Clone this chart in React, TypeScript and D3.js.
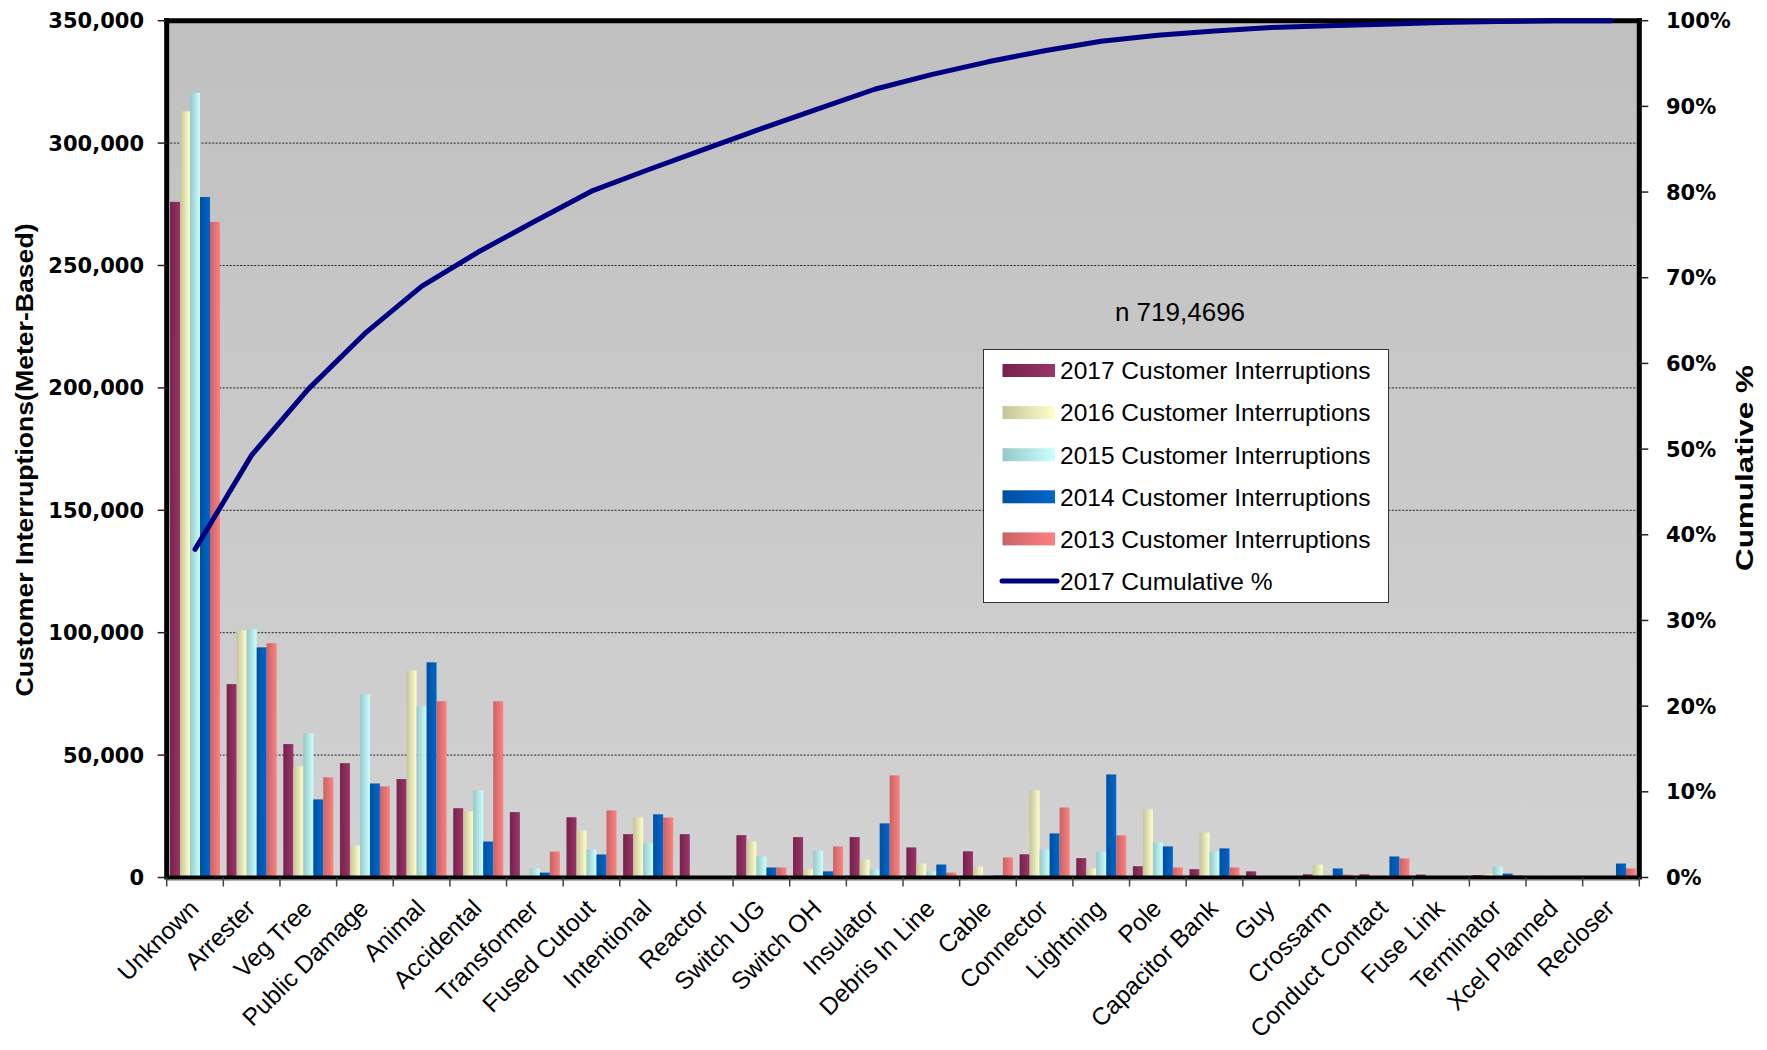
import React from "react";
import * as d3 from "d3";

const categories = ["Unknown","Arrester","Veg Tree","Public Damage","Animal","Accidental","Transformer","Fused Cutout","Intentional","Reactor","Switch UG","Switch OH","Insulator","Debris In Line","Cable","Connector","Lightning","Pole","Capacitor Bank","Guy","Crossarm","Conduct Contact","Fuse Link","Terminator","Xcel Planned","Recloser"];

const ci2017 = [276000, 79000, 54500, 46700, 40200, 28300, 26700, 24600, 17700, 17700, 17300, 16500, 16500, 12300, 10700, 9500, 7900, 4600, 3400, 2500, 1300, 1300, 1200, 1000, 400, 400];
const ci2016 = [313000, 101000, 45400, 13100, 84600, 27000, 0, 19200, 24500, 0, 14700, 3300, 7400, 5700, 4500, 35600, 3700, 27800, 18400, 0, 5300, 500, 0, 1600, 700, 0];
const ci2015 = [320500, 101400, 58900, 74800, 69900, 35600, 3700, 11400, 13900, 0, 8600, 11000, 3300, 2500, 600, 11400, 10600, 14300, 10600, 0, 0, 800, 0, 4500, 300, 0];
const ci2014 = [278000, 94000, 31900, 38400, 87900, 14700, 2000, 9400, 25800, 0, 4100, 2500, 22100, 5300, 800, 18000, 42100, 12700, 11900, 0, 3700, 8600, 0, 1600, 200, 5700];
const ci2013 = [267800, 95700, 40900, 37200, 72000, 72000, 10600, 27400, 24500, 0, 4100, 12700, 41700, 2000, 8200, 28600, 17200, 4100, 4100, 0, 1200, 7800, 0, 1000, 400, 3700];
const cumulative2017 = [38.3, 49.3, 57.0, 63.5, 69.0, 73.0, 76.6, 80.1, 82.6, 85.0, 87.4, 89.7, 92.0, 93.7, 95.2, 96.5, 97.6, 98.3, 98.8, 99.2, 99.4, 99.6, 99.8, 99.9, 100, 100];

const seriesNames = ["2017 Customer Interruptions","2016 Customer Interruptions","2015 Customer Interruptions","2014 Customer Interruptions","2013 Customer Interruptions"];
const lineName = "2017 Cumulative %";
const leftTicks = [0, 50000, 100000, 150000, 200000, 250000, 300000, 350000];
const rightTicks = [0, 10, 20, 30, 40, 50, 60, 70, 80, 90, 100];
const annotation = "n 719,4696";
const yTitle = "Customer Interruptions(Meter-Based)";
const y2Title = "Cumulative %";

const seriesValues = [ci2017, ci2016, ci2015, ci2014, ci2013];
const gradColors = [
  ["#75224c", "#9c3468"],
  ["#c4c49a", "#ffffcc"],
  ["#96c8c8", "#ccffff"],
  ["#004f9e", "#0066cc"],
  ["#c86464", "#ff8080"],
];

export default function App() {
  const L = 166.7, R = 1639.3, T = 20.7, B = 877.5;
  const x0 = d3.scaleBand<string>().domain(categories).range([L, R]).padding(0);
  const cw = x0.bandwidth();
  const gap = cw * 0.0588;
  const x1 = d3.scaleBand<number>().domain([0, 1, 2, 3, 4]).range([gap, cw - gap]).padding(0);
  const y = d3.scaleLinear().domain([0, 350000]).range([B, T]);
  const y2 = d3.scaleLinear().domain([0, 100]).range([B, T]);
  const line = d3.line<number>().x((_, i) => (x0(categories[i]) as number) + cw / 2).y(d => y2(d));
  const fmt = d3.format(",");

  const legendX = 983.5, legendY = 349.5, legendW = 405, legendH = 253;
  const rowY = (i: number) => 370.5 + i * 42.1;

  return (
    <svg width={1767} height={1050} style={{ position: "absolute", left: 0, top: 0, display: "block" }} fontFamily="'Liberation Sans', Arial, sans-serif">
      <defs>
        <linearGradient id="bg" x1="0" y1="0" x2="0" y2="1">
          <stop offset="0" stopColor="#c0c0c0" />
          <stop offset="1" stopColor="#d2d2d2" />
        </linearGradient>
        {gradColors.map((c, i) => (
          <linearGradient key={i} id={"g" + i} x1="0" y1="0" x2="1" y2="0">
            <stop offset="0" stopColor={c[0]} />
            <stop offset="1" stopColor={c[1]} />
          </linearGradient>
        ))}
      </defs>
      <rect x={0} y={0} width={1767} height={1050} fill="#fff" />
      <rect x={L} y={T} width={R - L} height={B - T} fill="url(#bg)" />
      {leftTicks.filter(t => t > 0 && t < 350000).map(t => (
        <line key={t} x1={L} x2={R} y1={y(t)} y2={y(t)} stroke="#222" strokeWidth={1} strokeDasharray="2,1.5" />
      ))}
      {seriesValues.map((vals, s) => (
        <g key={s}>
          {vals.map((v, i) => v > 0 ? (
            <rect key={i} x={(x0(categories[i]) as number) + (x1(s) as number)} y={y(v)} width={x1.bandwidth()} height={B - y(v)} fill={`url(#g${s})`} />
          ) : null)}
        </g>
      ))}
      {/* frame */}
      <line x1={L - 2.5} x2={R + 2.5} y1={T} y2={T} stroke="#000" strokeWidth={5} />
      <line x1={L} x2={L} y1={T - 2.5} y2={B + 2} stroke="#000" strokeWidth={5} />
      <line x1={R} x2={R} y1={T - 2.5} y2={B + 2} stroke="#000" strokeWidth={5} />
      <line x1={L} x2={R} y1={B} y2={B} stroke="#000" strokeWidth={4} />
      <line x1={L} x2={R} y1={B + 2.5} y2={B + 2.5} stroke="#666" strokeWidth={1} />
      {/* left ticks */}
      {leftTicks.map(t => (
        <g key={t}>
          <line x1={L - 9} x2={L} y1={y(t)} y2={y(t)} stroke="#222" strokeWidth={1.5} />
          <text x={144} y={y(t)} dy="0.36em" textAnchor="end" fontFamily="'DejaVu Sans', sans-serif" fontWeight="bold" fontSize={21}>{fmt(t)}</text>
        </g>
      ))}
      {rightTicks.map(t => (
        <g key={t}>
          <line x1={R} x2={R + 9} y1={y2(t)} y2={y2(t)} stroke="#222" strokeWidth={1.5} />
          <text x={1666} y={y2(t)} dy="0.36em" textAnchor="start" fontFamily="'DejaVu Sans', sans-serif" fontWeight="bold" fontSize={21}>{t + "%"}</text>
        </g>
      ))}
      {/* bottom ticks */}
      {d3.range(categories.length + 1).map(i => (
        <line key={i} x1={L + i * cw} x2={L + i * cw} y1={B} y2={B + 9} stroke="#444" strokeWidth={1.5} />
      ))}
      {categories.map(c => (
        <text key={c} transform={`translate(${(x0(c) as number) + cw / 2 + 5},910) rotate(-45)`} textAnchor="end" fontSize={24.5}>{c}</text>
      ))}
      {/* cumulative line */}
      <path d={line(cumulative2017) || ""} fill="none" stroke="#000080" strokeWidth={5} strokeLinejoin="round" strokeLinecap="round" />
      {/* titles */}
      <text transform="translate(25,460) rotate(-90)" textAnchor="middle" dy="0.35em" fontWeight="bold" fontSize={23} textLength={473} lengthAdjust="spacingAndGlyphs">{yTitle}</text>
      <text transform="translate(1745,468) rotate(-90)" textAnchor="middle" dy="0.35em" fontWeight="bold" fontSize={23} textLength={206} lengthAdjust="spacingAndGlyphs">{y2Title}</text>
      <text x={1180} y={321} textAnchor="middle" fontSize={26}>{annotation}</text>
      {/* legend */}
      <rect x={legendX} y={legendY} width={legendW} height={legendH} fill="#fff" stroke="#333" strokeWidth={1} />
      {seriesNames.map((n, i) => (
        <g key={n}>
          <rect x={1002.5} y={rowY(i) - 6.5} width={52.5} height={13} fill={`url(#g${i})`} />
          <text x={1060} y={rowY(i)} dy="0.36em" fontSize={24.5}>{n}</text>
        </g>
      ))}
      <line x1={1002} x2={1057} y1={rowY(5)} y2={rowY(5)} stroke="#000080" strokeWidth={5} strokeLinecap="round" />
      <text x={1060} y={rowY(5)} dy="0.36em" fontSize={24.5}>{lineName}</text>
    </svg>
  );
}
